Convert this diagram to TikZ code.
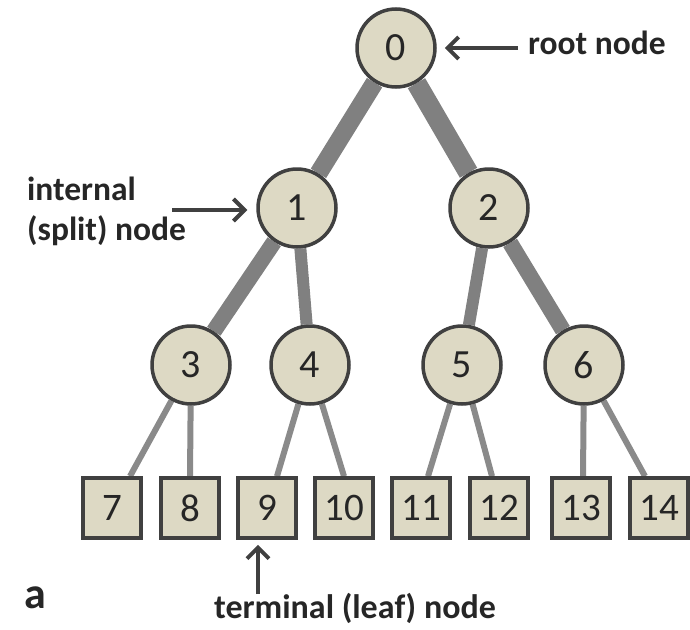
\documentclass[tikz,border=0pt]{standalone}
\usepackage{fontspec}
\setmainfont{Carlito}
\usetikzlibrary{arrows.meta,backgrounds}
\definecolor{nodefill}{HTML}{DDD9C4}
\definecolor{nodeline}{HTML}{404040}
\definecolor{edgegray}{HTML}{808080}
\definecolor{leafgray}{HTML}{8A8A8A}
\definecolor{txt}{HTML}{262626}
\begin{document}
\begin{tikzpicture}[x=1pt,y=-1pt,
  split/.style={circle,draw=nodeline,fill=nodefill,line width=3.5pt,minimum size=78pt,inner sep=0pt,font=\fontsize{40}{40}\selectfont,text=txt},
  leaf/.style={rectangle,draw=nodeline,fill=nodefill,line width=3.5pt,minimum width=58pt,minimum height=60pt,inner sep=0pt,font=\fontsize{39}{39}\selectfont,text=txt},
  branch/.style={draw=edgegray,line cap=butt},
  twig/.style={draw=leafgray,line width=6pt},
  pointer/.style={draw=nodeline,line width=4pt,-{Straight Barb[length=11pt,width=22pt]}},
  lbl/.style={inner sep=0pt,font=\bfseries\fontsize{33.5}{40}\selectfont,text=txt}
]
\useasboundingbox (0,0) rectangle (690,629);
% internal nodes
\node[split] (n0) at (396,48) {0};
\node[split] (n1) at (297,208) {1};
\node[split] (n2) at (489,208) {2};
\node[split] (n3) at (191,365) {3};
\node[split] (n4) at (310,365) {4};
\node[split] (n5) at (462,365) {5};
\node[split] (n6) at (584,365) {6};
% leaves
\node[leaf] (n7)  at (112,508) {7};
\node[leaf] (n8)  at (190,508) {8};
\node[leaf] (n9)  at (267,508) {9};
\node[leaf] (n10) at (344,508) {10};
\node[leaf] (n11) at (421,508) {11};
\node[leaf] (n12) at (499,508) {12};
\node[leaf] (n13) at (581,508) {13};
\node[leaf] (n14) at (659,508) {14};
% edges
\begin{scope}[on background layer]
\draw[branch,line width=18pt] (n0) -- (n1);
\draw[branch,line width=20pt] (n0) -- (n2);
\draw[branch,line width=16pt] (n1) -- (n3);
\draw[branch,line width=12pt] (n1) -- (n4);
\draw[branch,line width=12pt] (n2) -- (n5);
\draw[branch,line width=16pt] (n2) -- (n6);
\draw[twig] (n3) -- ([xshift=18pt]n7.north);
\draw[twig] (n3) -- (n8.north);
\draw[twig] (n4) -- ([xshift=10pt]n9.north);
\draw[twig] (n4) -- (n10.north);
\draw[twig] (n5) -- ([xshift=7pt]n11.north);
\draw[twig] (n5) -- ([xshift=-7pt]n12.north);
\draw[twig] (n6) -- ([xshift=2pt]n13.north);
\draw[twig] (n6) -- ([xshift=-14pt]n14.north);
\end{scope}
% labels
\node[lbl,anchor=base west] (rootlbl) at (528,54) {root node};
\draw[pointer,shorten <=10pt,shorten >=8pt] (rootlbl.west |- n0) -- (n0.east);
\node[lbl,anchor=north west,align=left] (intlbl) at (27,177) {internal\\(split) node};
\coordinate (intstart) at (172,210);
\draw[pointer,shorten >=9pt] (intstart) -- (intstart -| n1.west);
\node[lbl,anchor=base,font=\bfseries\fontsize{34}{40}\selectfont] (termlbl) at (355,618) {terminal (leaf) node};
\coordinate (termstart) at (258,594);
\draw[pointer,shorten >=5pt] (termstart) -- (termstart |- n9.south);
\node[inner sep=0pt,anchor=base,font=\bfseries\fontsize{44}{44}\selectfont,text=txt] (panel) at (35,608) {a};
\end{tikzpicture}
\end{document}
